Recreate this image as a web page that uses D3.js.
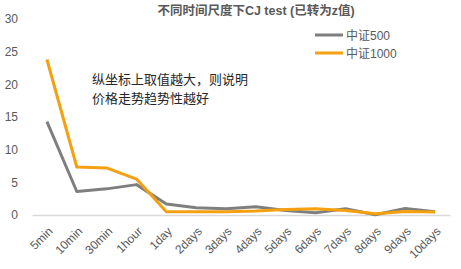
<!DOCTYPE html>
<html>
<head>
<meta charset="utf-8">
<script src="https://cdn.jsdelivr.net/npm/d3@7"></script>
<style>
  body { margin: 0; background: #fff; }
  svg text { font-family: "Liberation Sans", Arial, "Noto Sans CJK SC", sans-serif; }
</style>
</head>
<body>
<div class="chart"></div>
<script>
var categories = ["5min", "10min", "30min", "1hour", "1day", "2days", "3days", "4days",
    "5days", "6days", "7days", "8days", "9days", "10days"];
var zz500 = [14.3, 3.6, 4.0, 4.65, 1.7, 1.1, 0.95, 1.25, 0.7, 0.35, 0.95, 0.05, 1.0, 0.5];
var zz1000 = [23.8, 7.35, 7.2, 5.5, 0.5, 0.5, 0.5, 0.6, 0.85, 0.95, 0.7, 0.2, 0.55, 0.45];
var yTicks = [0, 5, 10, 15, 20, 25, 30];
var seriesNames = ["中证500", "中证1000"];
var seriesColors = ["#7f7f7f", "#f5a00f"];

var width = 461, height = 269;
var margin = {top: 19, right: 11, bottom: 54, left: 32};

var svg = d3.select(".chart")
    .append("svg")
    .attr("width", width)
    .attr("height", height);

var xScale = d3.scalePoint()
    .domain(categories)
    .range([margin.left, width - margin.right])
    .padding(0.5);

var yScale = d3.scaleLinear()
    .domain([0, 30])
    .range([height - margin.bottom, margin.top]);

// title
svg.append("text")
    .attr("x", 256)
    .attr("y", 15)
    .attr("text-anchor", "middle")
    .style("font-size", "12.5px")
    .style("font-weight", "bold")
    .style("fill", "#595959")
    .text("不同时间尺度下CJ  test (已转为z值)");

// y axis (labels only)
var yAxis = svg.append("g")
    .attr("transform", "translate(" + 18 + ",0)")
    .call(d3.axisLeft(yScale).tickValues(yTicks).tickSize(0).tickPadding(0));
yAxis.select(".domain").remove();
yAxis.selectAll("text")
    .style("font-size", "12px")
    .style("fill", "#595959");

// x axis
var xAxis = svg.append("g")
    .attr("transform", "translate(0," + yScale(0) + ")")
    .call(d3.axisBottom(xScale).tickSize(0));
xAxis.select(".domain")
    .attr("stroke", "#d9d9d9")
    .attr("stroke-width", 1.5);
xAxis.selectAll("text")
    .style("font-size", "12px")
    .style("fill", "#595959")
    .attr("text-anchor", "end")
    .attr("x", 0)
    .attr("y", 0)
    .attr("dy", "0.35em")
    .attr("transform", "translate(3,14) rotate(-45)");

var line = d3.line()
    .x(function (d, i) { return xScale(categories[i]); })
    .y(function (d) { return yScale(d); });

[zz500, zz1000].forEach(function (values, k) {
    svg.append("path")
        .datum(values)
        .attr("d", line)
        .attr("fill", "none")
        .attr("stroke", seriesColors[k])
        .attr("stroke-width", 3)
        .attr("stroke-linejoin", "round");
});

// legend
var legend = svg.selectAll(".legend")
    .data(seriesNames)
    .enter()
    .append("g")
    .attr("class", "legend")
    .attr("transform", function (d, i) {
        return "translate(315," + (35 + i * 18) + ")";
    });
legend.append("line")
    .attr("x1", 0)
    .attr("x2", 28)
    .attr("stroke", function (d, i) { return seriesColors[i]; })
    .attr("stroke-width", 3);
legend.append("text")
    .attr("x", 31)
    .attr("y", 4.5)
    .style("font-size", "12px")
    .style("fill", "#595959")
    .text(function (d) { return d; });

// note
var note = svg.append("text")
    .attr("x", 92)
    .style("font-size", "13px")
    .style("fill", "#262626");
note.append("tspan").attr("x", 92).attr("y", 84).text("纵坐标上取值越大，则说明");
note.append("tspan").attr("x", 92).attr("y", 103).text("价格走势趋势性越好");
</script>
</body>
</html>
